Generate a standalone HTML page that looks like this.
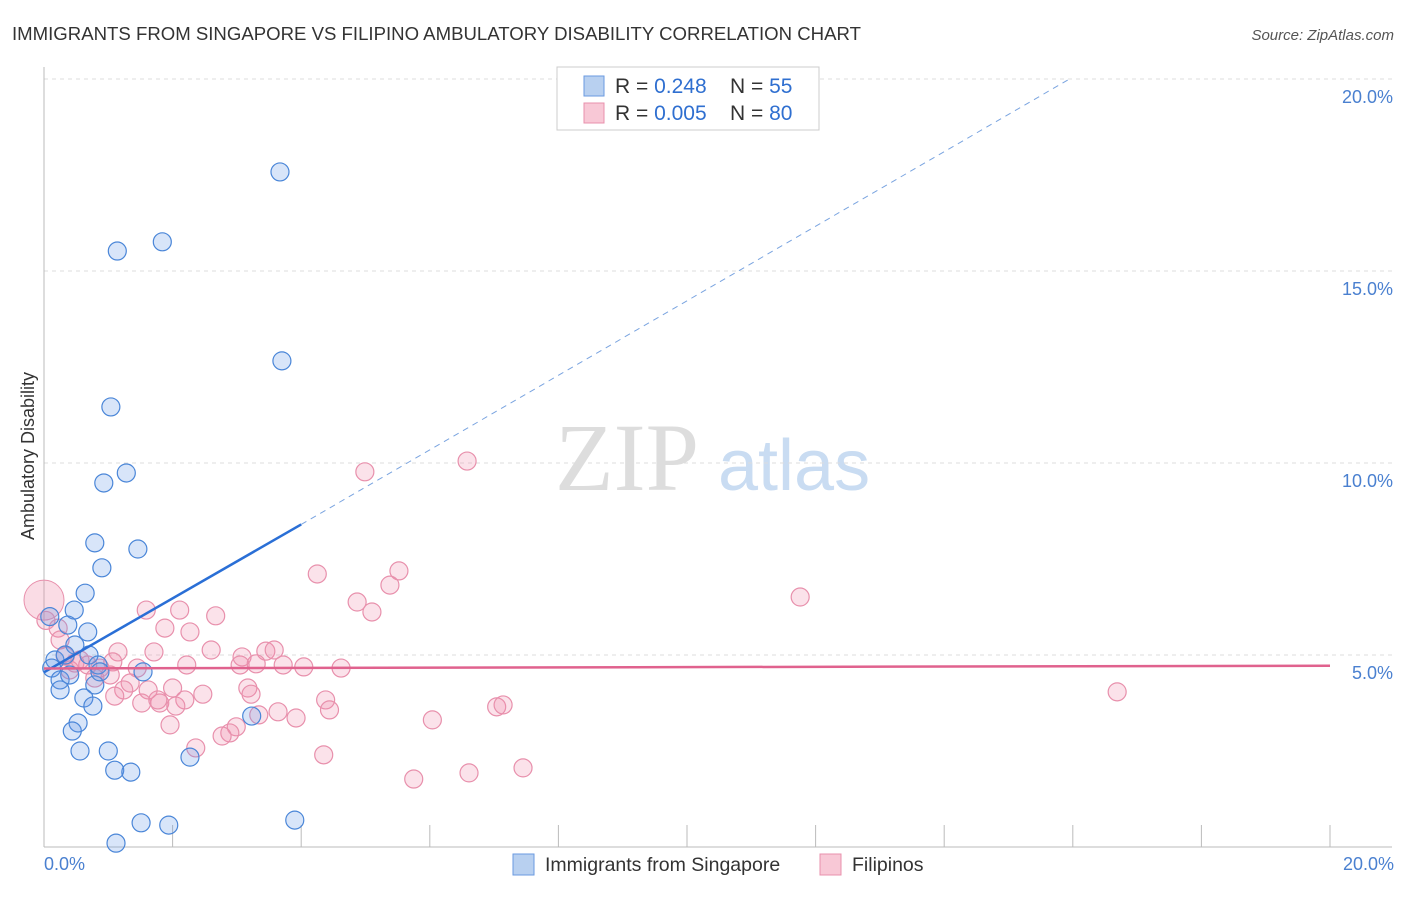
<!DOCTYPE html>
<html><head><meta charset="utf-8"><style>
body{margin:0;background:#fff;font-family:"Liberation Sans",sans-serif;}
</style></head><body>
<svg width="1406" height="892" xmlns="http://www.w3.org/2000/svg" style="font-family:'Liberation Sans',sans-serif">
<text x="12" y="40" font-size="18.6" fill="#333">IMMIGRANTS FROM SINGAPORE VS FILIPINO AMBULATORY DISABILITY CORRELATION CHART</text>
<text x="1394" y="40" font-size="15" fill="#555" font-style="italic" text-anchor="end">Source: ZipAtlas.com</text>
<text x="555" y="490" font-size="96" fill="#ddd" font-family="Liberation Serif,serif">ZIP</text>
<text x="718" y="490" font-size="72" fill="#c9dcf2">atlas</text>
<g id="grid"></g>
<g id="axes"></g>
<g id="pts"></g>
<g id="trend"></g>
<text transform="translate(34,456) rotate(-90)" font-size="18" fill="#333" text-anchor="middle">Ambulatory Disability</text>
<text x="44" y="870" font-size="18" fill="#4a80d0">0.0%</text>
<text x="1394" y="870" font-size="18" fill="#4a80d0" text-anchor="end">20.0%</text>
<g>
<rect x="557" y="67" width="262" height="63" fill="#fff" stroke="#ccc"/>
<rect x="584" y="76" width="20" height="20" fill="#b8d0f0" stroke="#6a9ae0"/>
<rect x="584" y="103" width="20" height="20" fill="#f8c8d6" stroke="#e890ac"/>
<text x="615" y="93" font-size="21" fill="#333">R = <tspan fill="#2f6fd0">0.248</tspan><tspan x="730">N = </tspan><tspan fill="#2f6fd0">55</tspan></text>
<text x="615" y="120" font-size="21" fill="#333">R = <tspan fill="#2f6fd0">0.005</tspan><tspan x="730">N = </tspan><tspan fill="#2f6fd0">80</tspan></text>
</g>
<g>
<rect x="513" y="854" width="21" height="21" fill="#b8d0f0" stroke="#6a9ae0"/>
<text x="545" y="871" font-size="19.5" fill="#333">Immigrants from Singapore</text>
<rect x="820" y="854" width="21" height="21" fill="#f8c8d6" stroke="#e890ac"/>
<text x="852" y="871" font-size="19.5" fill="#333">Filipinos</text>
</g>
</svg>
<script>
const yTicks=[5,10,15,20];
const yTickLabels=["5.0%","10.0%","15.0%","20.0%"];
const xTicks=[0,2,4,6,8,10,12,14,16,18,20];
const blueX=[3.67,1.14,1.84,3.70,1.04,1.28,0.93,0.79,1.46,0.90,0.64,0.47,0.37,0.68,0.09,0.48,0.70,0.17,0.33,0.84,0.12,0.25,0.40,0.79,1.54,0.62,0.76,0.53,0.44,0.56,1.0,1.1,1.35,2.27,3.23,1.51,1.94,3.90,1.12,0.25,0.87];
const blueY=[17.58,15.52,15.76,12.66,11.46,9.74,9.48,7.92,7.76,7.27,6.61,6.17,5.78,5.60,6.0,5.26,5.0,4.87,5.0,4.74,4.66,4.35,4.48,4.22,4.56,3.88,3.67,3.23,3.02,2.5,2.5,2.0,1.95,2.34,3.41,0.63,0.57,0.70,0.10,4.09,4.56];
const pinkX=[0.03,0.22,4.99,6.58,11.76,16.69,4.25,5.52,5.38,4.87,5.10,1.59,2.11,2.67,1.88,2.27,1.71,1.15,2.60,3.08,3.45,3.58,2.22,3.05,3.30,3.72,4.04,4.62,1.45,1.07,1.34,1.24,1.10,1.62,2.00,2.47,3.17,3.22,1.52,1.80,1.77,2.19,2.05,4.38,4.44,3.64,3.92,3.34,2.99,2.89,2.77,1.96,2.36,6.04,7.04,7.14,4.35,5.75,6.61,7.45,0.87,0.68,0.48,0.33,0.40,0.79,1.03,0.25,0.56];
const pinkY=[5.9,5.7,9.77,10.05,6.51,4.04,7.11,7.19,6.82,6.38,6.12,6.17,6.17,6.02,5.70,5.60,5.08,5.08,5.13,4.95,5.10,5.13,4.74,4.74,4.77,4.74,4.69,4.66,4.66,4.82,4.27,4.09,3.93,4.09,4.14,3.98,4.14,3.98,3.75,3.75,3.83,3.83,3.67,3.83,3.57,3.52,3.36,3.44,3.13,2.97,2.89,3.18,2.58,3.31,3.65,3.70,2.40,1.77,1.93,2.06,4.66,4.74,4.79,4.97,4.61,4.40,4.48,5.39,4.87];
const blueTrend=[0,4.55,4.0,8.4];
const blueTrendExt=[4.0,8.4,15.95,20];
const pinkTrend=[0,4.65,20,4.72];
const NS="http://www.w3.org/2000/svg";
function sx(v){return 44+v/20*1286;}
function sy(v){return 847-v/5*192;}
function mk(tag,attrs,parent){const e=document.createElementNS(NS,tag);for(const k in attrs)e.setAttribute(k,attrs[k]);parent.appendChild(e);return e;}
const grid=document.getElementById('grid'),axes=document.getElementById('axes'),pts=document.getElementById('pts'),trend=document.getElementById('trend');
yTicks.forEach((t,i)=>{
 const l=mk('line',{x1:44,x2:1392,y1:sy(t),y2:sy(t),stroke:'#ddd','stroke-dasharray':'4,4'},grid);
 
 
 const tx=mk('text',{x:1393,y:sy(t)+24,'font-size':18,fill:'#4a80d0','text-anchor':'end'},grid);
 tx.textContent=yTickLabels[i];
 
 
});
const la=mk('line',{x1:44,x2:44,y1:67,y2:847,stroke:'#bbb'},axes);


const lb=mk('line',{x1:44,x2:1392,y1:847,y2:847,stroke:'#bbb'},axes);


xTicks.forEach(t=>{
 const l=mk('line',{x1:sx(t),x2:sx(t),y1:825,y2:847,stroke:'#bbb'},axes);
 
 
});
const big=mk('circle',{cx:sx(0),cy:sy(6.43),r:20,fill:'rgba(240,140,170,0.3)',stroke:'#e890ac'},pts);


pinkX.forEach((x,i)=>{
 const c=mk('circle',{cx:sx(x),cy:sy(pinkY[i]),r:9,fill:'rgba(240,140,170,0.25)',stroke:'#e890ac','stroke-width':1.2},pts);
 
 
});
blueX.forEach((x,i)=>{
 const c=mk('circle',{cx:sx(x),cy:sy(blueY[i]),r:9,fill:'rgba(100,150,230,0.25)',stroke:'#4a86d8','stroke-width':1.2},pts);
 
 
});
const t1=mk('line',{x1:sx(blueTrend[0]),y1:sy(blueTrend[1]),x2:sx(blueTrend[2]),y2:sy(blueTrend[3]),stroke:'#2a6fd6','stroke-width':2.5},trend);


const t2=mk('line',{x1:sx(blueTrendExt[0]),y1:sy(blueTrendExt[1]),x2:sx(blueTrendExt[2]),y2:sy(blueTrendExt[3]),stroke:'#7aa4e0','stroke-width':1,'stroke-dasharray':'6,5'},trend);


const t3=mk('line',{x1:sx(pinkTrend[0]),y1:sy(pinkTrend[1]),x2:sx(pinkTrend[2]),y2:sy(pinkTrend[3]),stroke:'#e0628e','stroke-width':2.5},trend);


</script>
</body></html>
